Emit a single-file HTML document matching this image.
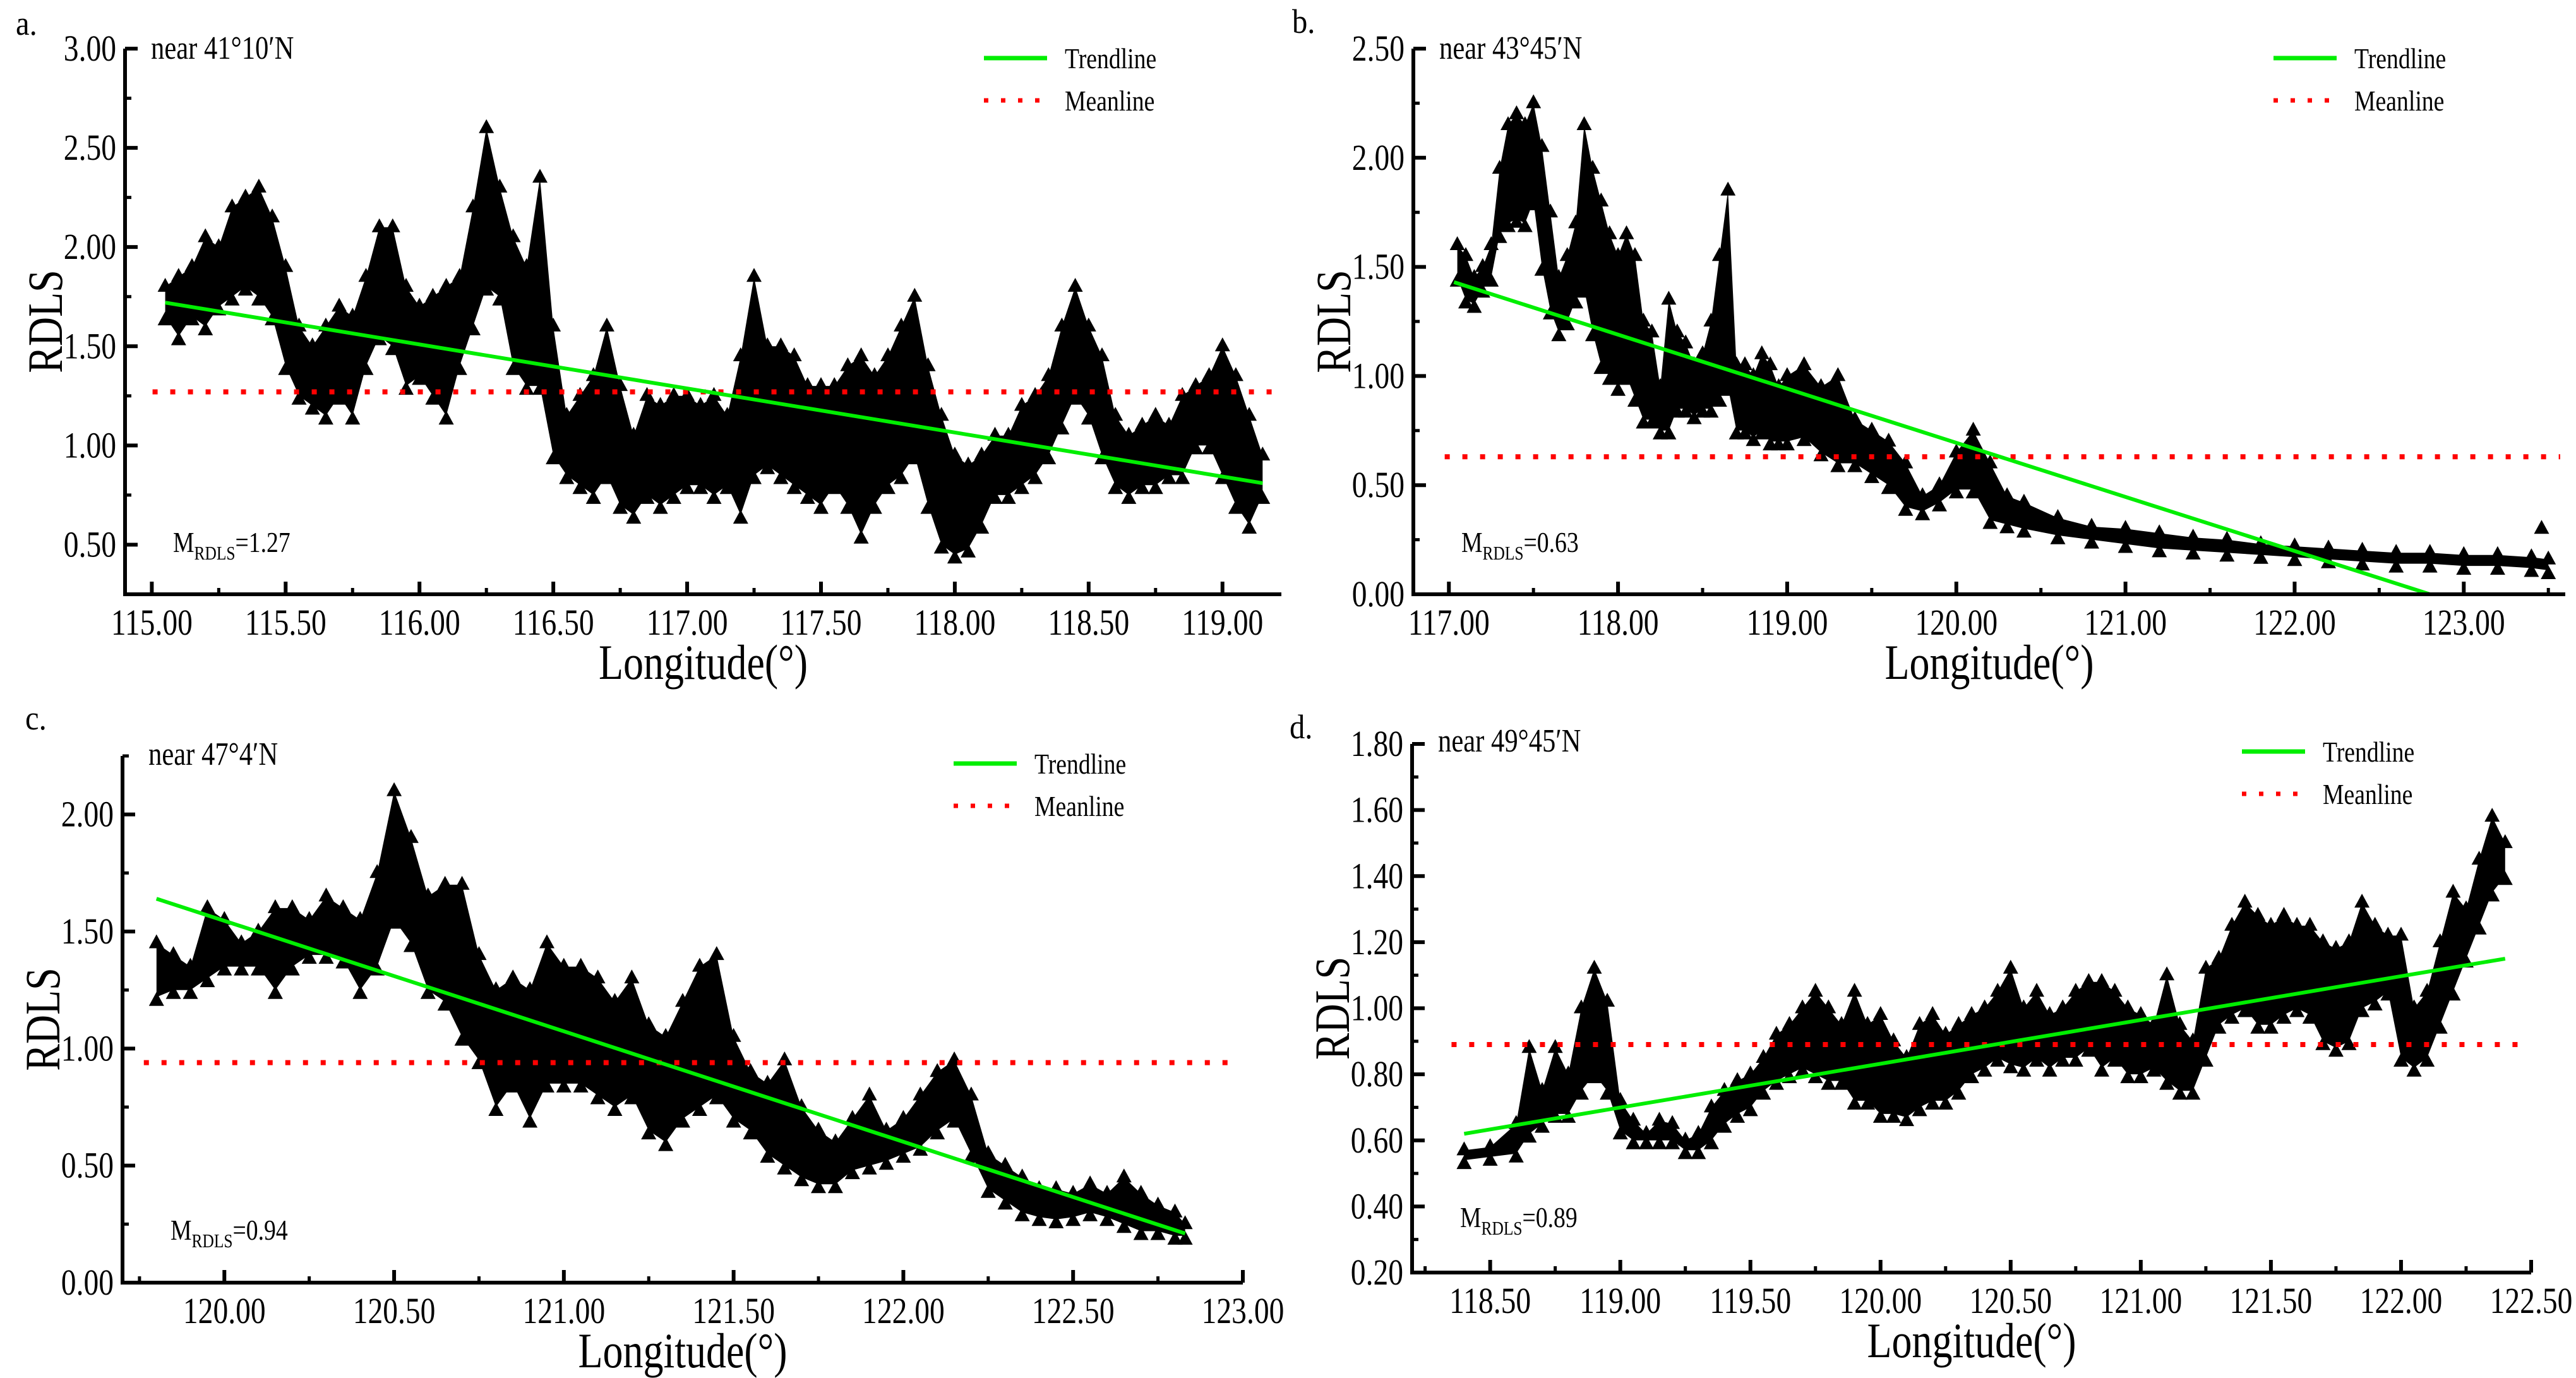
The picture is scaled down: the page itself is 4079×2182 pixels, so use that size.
<!DOCTYPE html>
<html><head><meta charset="utf-8"><title>RDLS vs Longitude</title>
<style>html,body{margin:0;padding:0;background:#fff;}svg{display:block;}svg text{font-family:"Liberation Serif","Times New Roman",serif;}</style></head>
<body>
<svg id="chart" xmlns="http://www.w3.org/2000/svg" width="4079" height="2182" viewBox="0 0 4079 2182">
<rect x="0" y="0" width="4079" height="2182" fill="#fff"/>
</svg>
<script>
// ---- Panel a data ----
const A_lon=[115.05,115.1,115.15,115.2,115.25,115.3,115.35,115.4,115.45,115.5,115.55,115.6,115.65,115.7,115.75,115.8,115.85,115.9,115.95,116.0,116.05,116.1,116.15,116.2,116.25,116.3,116.35,116.4,116.45,116.5,116.55,116.6,116.65,116.7,116.75,116.8,116.85,116.9,116.95,117.0,117.05,117.1,117.15,117.2,117.25,117.3,117.35,117.4,117.45,117.5,117.55,117.6,117.65,117.7,117.75,117.8,117.85,117.9,117.95,118.0,118.05,118.1,118.15,118.2,118.25,118.3,118.35,118.4,118.45,118.5,118.55,118.6,118.65,118.7,118.75,118.8,118.85,118.9,118.95,119.0,119.05,119.1,119.15];
const A_hi=[1.80,1.85,1.90,2.05,2.00,2.20,2.25,2.30,2.15,1.90,1.60,1.50,1.60,1.70,1.65,1.85,2.10,2.10,1.80,1.70,1.75,1.80,1.85,2.20,2.60,2.30,2.05,1.90,2.35,1.60,1.15,1.25,1.35,1.60,1.30,1.05,1.25,1.20,1.25,1.25,1.20,1.25,1.15,1.45,1.85,1.50,1.50,1.45,1.30,1.30,1.30,1.40,1.45,1.35,1.45,1.60,1.75,1.40,1.15,0.95,0.90,0.95,1.05,1.05,1.20,1.25,1.35,1.60,1.80,1.60,1.45,1.15,1.05,1.10,1.15,1.10,1.25,1.30,1.35,1.50,1.35,1.15,0.95];
const A_lo=[1.65,1.55,1.65,1.60,1.70,1.75,1.80,1.75,1.65,1.40,1.25,1.20,1.15,1.25,1.15,1.40,1.55,1.50,1.30,1.35,1.25,1.15,1.40,1.60,1.80,1.75,1.40,1.30,1.30,0.95,0.85,0.80,0.75,0.85,0.70,0.65,0.75,0.70,0.75,0.80,0.80,0.75,0.80,0.65,0.85,0.90,0.85,0.80,0.75,0.70,0.80,0.70,0.55,0.70,0.80,0.85,0.95,0.70,0.50,0.45,0.48,0.60,0.75,0.75,0.80,0.85,0.95,1.10,1.25,1.15,0.95,0.80,0.75,0.80,0.80,0.85,0.85,1.00,1.00,0.85,0.70,0.60,0.75];
const A_trendLon=[115.05,119.15];
const A_trendVal=[1.72,0.81];
const A_mean=1.27;
const A_yTicks=["0.50","1.00","1.50","2.00","2.50","3.00"];
const A_xTicks=["115.00","115.50","116.00","116.50","117.00","117.50","118.00","118.50","119.00"];

// ---- Panel b data ----
const B_lon=[117.05,117.1,117.15,117.2,117.25,117.3,117.35,117.4,117.45,117.5,117.55,117.6,117.65,117.7,117.75,117.8,117.85,117.9,117.95,118.0,118.05,118.1,118.15,118.2,118.25,118.3,118.35,118.4,118.45,118.5,118.55,118.6,118.65,118.7,118.75,118.8,118.85,118.9,118.95,119.0,119.1,119.2,119.3,119.4,119.5,119.6,119.7,119.8,119.9,120.0,120.1,120.2,120.3,120.4,120.6,120.8,121.0,121.2,121.4,121.6,121.8,122.0,122.2,122.4,122.6,122.8,123.0,123.2,123.4,123.5];
const B_hi=[1.60,1.55,1.45,1.50,1.60,1.95,2.15,2.20,2.15,2.25,2.05,1.75,1.45,1.55,1.70,2.15,1.95,1.80,1.65,1.55,1.65,1.55,1.25,1.20,0.95,1.35,1.20,1.15,1.05,1.10,1.25,1.55,1.85,1.05,1.05,1.00,1.10,1.05,0.95,1.00,1.05,0.95,1.00,0.80,0.75,0.70,0.60,0.45,0.50,0.65,0.75,0.60,0.45,0.42,0.35,0.31,0.30,0.28,0.26,0.25,0.23,0.22,0.21,0.20,0.19,0.19,0.18,0.18,0.17,0.16];
const B_lo=[1.45,1.35,1.33,1.40,1.45,1.65,1.70,1.72,1.70,1.80,1.50,1.30,1.20,1.25,1.35,1.40,1.20,1.05,1.00,0.95,1.00,0.90,0.80,0.80,0.75,0.75,0.85,0.85,0.82,0.85,0.85,0.90,0.95,0.75,0.75,0.72,0.75,0.70,0.70,0.70,0.72,0.65,0.60,0.60,0.55,0.50,0.40,0.38,0.42,0.48,0.48,0.34,0.32,0.30,0.27,0.25,0.23,0.21,0.20,0.19,0.18,0.17,0.16,0.15,0.14,0.14,0.13,0.13,0.12,0.11];
const B_outLon=[123.46];
const B_outVal=[0.30];
const B_trendLon=[117.03,122.8];
const B_trendVal=[1.43,0.0];
const B_mean=0.63;
const B_yTicks=["0.00","0.50","1.00","1.50","2.00","2.50"];
const B_xTicks=["117.00","118.00","119.00","120.00","121.00","122.00","123.00"];

// ---- Panel c data ----
const C_lon=[119.8,119.85,119.9,119.95,120.0,120.05,120.1,120.15,120.2,120.25,120.3,120.35,120.4,120.45,120.5,120.55,120.6,120.65,120.7,120.75,120.8,120.85,120.9,120.95,121.0,121.05,121.1,121.15,121.2,121.25,121.3,121.35,121.4,121.45,121.5,121.55,121.6,121.65,121.7,121.75,121.8,121.85,121.9,121.95,122.0,122.05,122.1,122.15,122.2,122.25,122.3,122.35,122.4,122.45,122.5,122.55,122.6,122.65,122.7,122.75,122.8,122.83];
const C_hi=[1.45,1.40,1.35,1.60,1.55,1.45,1.50,1.60,1.60,1.55,1.65,1.60,1.55,1.75,2.10,1.90,1.65,1.70,1.70,1.40,1.25,1.30,1.25,1.45,1.35,1.35,1.30,1.20,1.30,1.10,1.05,1.20,1.35,1.40,1.05,0.90,0.85,0.95,0.75,0.65,0.60,0.70,0.80,0.65,0.70,0.80,0.90,0.95,0.80,0.55,0.50,0.45,0.40,0.40,0.38,0.42,0.38,0.45,0.38,0.33,0.30,0.25];
const C_lo=[1.22,1.25,1.25,1.30,1.35,1.35,1.35,1.25,1.35,1.40,1.40,1.38,1.25,1.35,1.55,1.45,1.25,1.20,1.05,0.95,0.75,0.85,0.70,0.85,0.85,0.85,0.80,0.75,0.80,0.65,0.60,0.70,0.75,0.80,0.70,0.65,0.55,0.50,0.45,0.42,0.42,0.48,0.50,0.52,0.55,0.58,0.65,0.70,0.55,0.40,0.35,0.30,0.28,0.27,0.28,0.30,0.28,0.25,0.22,0.22,0.20,0.20];
const C_trendLon=[119.8,122.83];
const C_trendVal=[1.64,0.21];
const C_mean=0.94;
const C_yTicks=["0.00","0.50","1.00","1.50","2.00"];
const C_xTicks=["120.00","120.50","121.00","121.50","122.00","122.50","123.00"];

// ---- Panel d data ----
const D_lon=[118.4,118.5,118.6,118.65,118.7,118.75,118.8,118.85,118.9,118.95,119.0,119.05,119.1,119.15,119.2,119.25,119.3,119.35,119.4,119.45,119.5,119.55,119.6,119.65,119.7,119.75,119.8,119.85,119.9,119.95,120.0,120.05,120.1,120.15,120.2,120.25,120.3,120.35,120.4,120.45,120.5,120.55,120.6,120.65,120.7,120.75,120.8,120.85,120.9,120.95,121.0,121.05,121.1,121.15,121.2,121.25,121.3,121.35,121.4,121.45,121.5,121.55,121.6,121.65,121.7,121.75,121.8,121.85,121.9,121.95,122.0,122.05,122.1,122.15,122.2,122.25,122.3,122.35,122.4];
const D_hi=[0.57,0.58,0.65,0.88,0.75,0.88,0.80,1.00,1.12,1.02,0.72,0.66,0.62,0.66,0.65,0.60,0.62,0.70,0.75,0.78,0.80,0.85,0.92,0.95,1.00,1.05,1.00,0.95,1.05,0.95,0.98,0.90,0.85,0.95,0.98,0.92,0.95,0.98,1.00,1.05,1.12,1.00,1.05,0.98,1.00,1.05,1.08,1.08,1.05,1.00,0.98,0.95,1.10,0.95,0.90,1.12,1.15,1.25,1.32,1.28,1.25,1.28,1.25,1.25,1.20,1.18,1.20,1.32,1.25,1.22,1.22,1.00,1.05,1.20,1.35,1.30,1.45,1.58,1.50];
const D_lo=[0.54,0.55,0.56,0.62,0.65,0.68,0.68,0.75,0.80,0.75,0.63,0.60,0.60,0.60,0.60,0.57,0.57,0.60,0.65,0.68,0.70,0.75,0.78,0.80,0.82,0.80,0.78,0.78,0.72,0.72,0.68,0.68,0.67,0.70,0.72,0.72,0.75,0.80,0.82,0.85,0.83,0.82,0.85,0.82,0.85,0.85,0.88,0.82,0.85,0.80,0.80,0.82,0.78,0.75,0.75,0.85,0.95,0.98,1.00,0.95,0.95,0.98,1.00,0.98,0.90,0.88,0.90,1.00,1.02,1.05,0.85,0.82,0.85,0.95,1.05,1.15,1.25,1.35,1.40];
const D_trendLon=[118.4,122.4];
const D_trendVal=[0.62,1.15];
const D_mean=0.89;
const D_yTicks=["0.20","0.40","0.60","0.80","1.00","1.20","1.40","1.60","1.80"];
const D_xTicks=["118.50","119.00","119.50","120.00","120.50","121.00","121.50","122.00","122.50"];

const NS='http://www.w3.org/2000/svg';
const svg=document.getElementById('chart');
function mk(tag,attrs,parent){const e=document.createElementNS(NS,tag);for(const k in attrs)e.setAttribute(k,attrs[k]);(parent||svg).appendChild(e);return e;}
function txt(parent,x,y,s,size,anchor,sx){
  const g=mk('g',{transform:'translate('+x+','+y+') scale('+(sx||0.82)+',1)'},parent);
  const t=mk('text',{x:0,y:0,'font-size':size,'text-anchor':anchor||'start',fill:'#000'},g);
  t.style.fontFamily='"Liberation Serif", serif';
  t.textContent=s;return t;
}

function panel(p){
  const g=mk('g',{});
  
  
  const X=v=>p.L+(v-p.xmin)/(p.xmax-p.xmin)*(p.R-p.L);
  const Y=v=>p.B-(v-p.ymin)/(p.ymax-p.ymin)*(p.B-p.T);
  let pts=[];
  for(let i=0;i<p.lon.length;i++)pts.push(X(p.lon[i]).toFixed(1)+','+Y(p.hi[i]).toFixed(1));
  for(let i=p.lon.length-1;i>=0;i--)pts.push(X(p.lon[i]).toFixed(1)+','+Y(p.lo[i]).toFixed(1));
  const band=mk('polygon',{points:pts.join(' '),fill:'#000'},g);
  
  
  const tri=(x,y)=>{const m=mk('path',{d:'M'+x.toFixed(1)+','+(y-14).toFixed(1)+' l12,22 l-24,0 z',fill:'#000'},g);
    
    };
  for(let i=0;i<p.lon.length;i++){tri(X(p.lon[i]),Y(p.hi[i]));tri(X(p.lon[i]),Y(p.lo[i])+6);}
  if(p.outLon)for(let i=0;i<p.outLon.length;i++)tri(X(p.outLon[i]),Y(p.outVal[i]));
  const ml=mk('line',{x1:X(p.lon[0])-20,x2:p.R-8,y1:Y(p.mean),y2:Y(p.mean),stroke:'#f00','stroke-width':8,'stroke-dasharray':'8 20'},g);
  
  
  const tl=mk('line',{x1:X(p.trendLon[0]),y1:Y(p.trendVal[0]),x2:X(p.trendLon[1]),y2:Y(p.trendVal[1]),stroke:'#00ee00','stroke-width':6},g);
  
  
  const ax=mk('path',{d:'M'+p.L+','+p.T+' L'+p.L+','+p.B+' L'+p.R+','+p.B,fill:'none',stroke:'#000','stroke-width':6},g);
  
  
  for(let i=0;i<p.yTicks.length;i++){
    const v=parseFloat(p.yTicks[i]);const y=Y(v);
    mk('line',{x1:p.L,x2:p.L+20,y1:y,y2:y,stroke:'#000','stroke-width':6},g);
    const t=txt(g,p.L-14,y+19,p.yTicks[i],58,'end');
    
    
  }
  for(let v=p.ymin;v<=p.ymax+1e-9;v+=p.yMinor){mk('line',{x1:p.L,x2:p.L+10,y1:Y(v),y2:Y(v),stroke:'#000','stroke-width':5},g);}
  for(let i=0;i<p.xTicks.length;i++){
    const v=parseFloat(p.xTicks[i]);const x=X(v);
    mk('line',{x1:x,x2:x,y1:p.B,y2:p.B-20,stroke:'#000','stroke-width':6},g);
    const t=txt(g,x,p.B+64,p.xTicks[i],58,'middle');
    
    
  }
  const x0=parseFloat(p.xTicks[0]);
  for(let v=x0-p.xMinor*Math.floor((x0-p.xmin)/p.xMinor);v<=p.xmax+1e-9;v+=p.xMinor){mk('line',{x1:X(v),x2:X(v),y1:p.B,y2:p.B-10,stroke:'#000','stroke-width':5},g);}
  const xt=txt(g,(p.L+p.R)/2,p.B+134,'Longitude(°)',78,'middle');
  
  
  const yg=mk('g',{transform:'translate('+(p.L-100)+','+((p.T+p.B)/2)+') rotate(-90)'},g);
  const yt=txt(yg,0,0,'RDLS',78,'middle');
  
  
  const pl=txt(g,p.letterX,p.letterY,p.letter,54,'start',0.9);
  
  
  const nt=txt(g,p.L+41,p.nearY,p.near,52,'start');
  
  
  const mg=mk('g',{transform:'translate('+(p.L+76)+','+p.mY+') scale(0.82,1)'},g);
  const mt=mk('text',{x:0,y:0,'font-size':46,fill:'#000'},mg);
  mt.style.fontFamily='"Liberation Serif", serif';
  
  
  mt.innerHTML='M<tspan font-size="31" dy="12">RDLS</tspan><tspan dy="-12">='+p.mean.toFixed(2)+'</tspan>';
  const lg=mk('g',{},g);
  
  
  const lx=p.L+p.legDX;
  mk('line',{x1:lx,x2:lx+100,y1:p.legY,y2:p.legY,stroke:'#00ee00','stroke-width':7},lg);
  const l1=txt(lg,lx+128,p.legY+16,'Trendline',46,'start');
  
  
  mk('line',{x1:lx,x2:lx+90,y1:p.legY+67,y2:p.legY+67,stroke:'#f00','stroke-width':7,'stroke-dasharray':'7 20'},lg);
  const l2=txt(lg,lx+128,p.legY+83,'Meanline',46,'start');
  
  
}

panel({id:'panel-a',letter:'a.',letterX:25,letterY:55,near:'near 41°10′N',nearY:93,mY:874,
  L:198,R:2029,T:77,B:941,xmin:114.9,xmax:119.22,ymin:0.25,ymax:3.0,yMinor:0.25,xMinor:0.25,
  lon:A_lon,hi:A_hi,lo:A_lo,trendLon:A_trendLon,trendVal:A_trendVal,mean:A_mean,yTicks:A_yTicks,xTicks:A_xTicks,legDX:1360,legY:92});
panel({id:'panel-b',letter:'b.',letterX:2046,letterY:52,near:'near 43°45′N',nearY:93,mY:874,
  L:2238,R:4062,T:77,B:941,xmin:116.79,xmax:123.6,ymin:0,ymax:2.5,yMinor:0.25,xMinor:0.5,
  lon:B_lon,hi:B_hi,lo:B_lo,outLon:B_outLon,outVal:B_outVal,trendLon:B_trendLon,trendVal:B_trendVal,mean:B_mean,yTicks:B_yTicks,xTicks:B_xTicks,legDX:1362,legY:92});
panel({id:'panel-c',letter:'c.',letterX:40,letterY:1155,near:'near 47°4′N',nearY:1211,mY:1963,
  L:194,R:1968,T:1197,B:2031,xmin:119.70,xmax:123.0,ymin:0,ymax:2.25,yMinor:0.25,xMinor:0.25,
  lon:C_lon,hi:C_hi,lo:C_lo,trendLon:C_trendLon,trendVal:C_trendVal,mean:C_mean,yTicks:C_yTicks,xTicks:C_xTicks,legDX:1316,legY:1209});
panel({id:'panel-d',letter:'d.',letterX:2042,letterY:1169,near:'near 49°45′N',nearY:1190,mY:1943,
  L:2236,R:4008,T:1178,B:2015,xmin:118.2,xmax:122.5,ymin:0.2,ymax:1.8,yMinor:0.1,xMinor:0.25,
  lon:D_lon,hi:D_hi,lo:D_lo,trendLon:D_trendLon,trendVal:D_trendVal,mean:D_mean,yTicks:D_yTicks,xTicks:D_xTicks,legDX:1314,legY:1190});
</script>
</body></html>
